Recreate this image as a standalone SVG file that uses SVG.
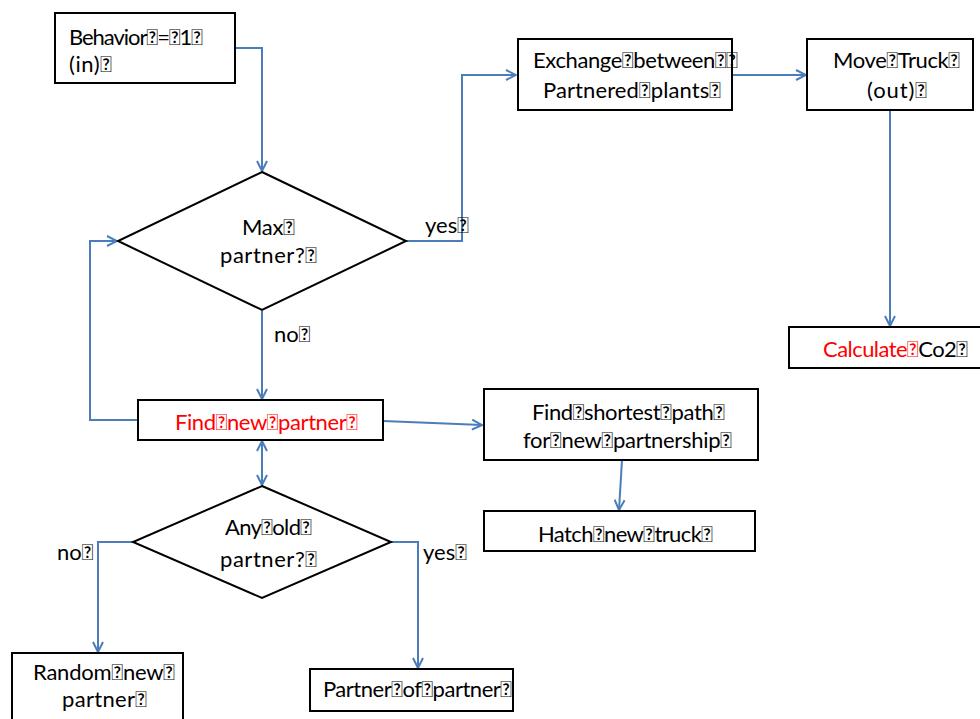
<svg xmlns="http://www.w3.org/2000/svg" width="980" height="719" viewBox="0 0 980 719">
<defs>
<style>
.box{fill:#fff;stroke:#000;stroke-width:2}
.t{font-family:Lato,"Liberation Sans",Arial,sans-serif;font-size:22px;fill:#000}
.r{fill:#ff0000}
.ln{fill:none;stroke:#4a7ebb;stroke-width:2}
</style>
<marker id="ah" viewBox="0 0 12 12" refX="11" refY="6" markerWidth="12" markerHeight="12" markerUnits="userSpaceOnUse" orient="auto-start-reverse">
<path d="M1,1 L11,6 L1,11" fill="none" stroke="#4a7ebb" stroke-width="2"/>
</marker>
</defs>
<rect width="980" height="719" fill="#fff"/>
<g id="connectors">
<polyline class="ln" points="235,48 262,48 262,171" marker-end="url(#ah)"/>
<polyline class="ln" points="406,241 462,241 462,75 516,75" marker-end="url(#ah)"/>
<line class="ln" x1="732" y1="75" x2="806" y2="75" marker-end="url(#ah)"/>
<line class="ln" x1="890" y1="110" x2="890" y2="326" marker-end="url(#ah)"/>
<line class="ln" x1="262" y1="311" x2="262" y2="399" marker-end="url(#ah)"/>
<polyline class="ln" points="138,420 90,420 90,241 117,241" marker-end="url(#ah)"/>
<line class="ln" x1="383" y1="421" x2="482" y2="425" marker-end="url(#ah)"/>
<line class="ln" x1="622" y1="460" x2="619" y2="510" marker-end="url(#ah)"/>
<line class="ln" x1="262" y1="441" x2="262" y2="485" marker-start="url(#ah)" marker-end="url(#ah)"/>
<polyline class="ln" points="133,542 98,542 98,652" marker-end="url(#ah)"/>
<polyline class="ln" points="391,542 418,542 418,668" marker-end="url(#ah)"/>
<text class="t" x="425" y="233">yes&#xF020;</text>
<text class="t" x="274" y="342">no&#xF020;</text>
<text class="t" x="57" y="560">no&#xF020;</text>
<text class="t" x="423" y="560">yes&#xF020;</text>
</g>
<g id="behavior">
<rect class="box" x="55" y="13" width="180" height="70"/>
<text class="t" x="69" y="45" textLength="134" lengthAdjust="spacing">Behavior&#xF020;=&#xF020;1&#xF020;</text>
<text class="t" x="69" y="72" textLength="43" lengthAdjust="spacing">(in)&#xF020;</text>
</g>
<g id="max-partner">
<polygon class="box" points="262,172 406,241 262,310 118,241"/>
<text class="t" x="242" y="235" textLength="53" lengthAdjust="spacing">Max&#xF020;</text>
<text class="t" x="220" y="263" textLength="97" lengthAdjust="spacing">partner?&#xF020;</text>
</g>
<g id="exchange">
<rect class="box" x="518" y="39" width="214" height="71"/>
<text class="t" x="533" y="68" textLength="205" lengthAdjust="spacing">Exchange&#xF020;between&#xF020;&#xF020;</text>
<text class="t" x="543" y="98" textLength="178" lengthAdjust="spacing">Partnered&#xF020;plants&#xF020;</text>
</g>
<g id="move-truck">
<rect class="box" x="807" y="39" width="166" height="71"/>
<text class="t" x="833" y="68" textLength="127" lengthAdjust="spacing">Move&#xF020;Truck&#xF020;</text>
<text class="t" x="867" y="98" textLength="60" lengthAdjust="spacing">(out)&#xF020;</text>
</g>
<g id="calculate">
<rect class="box" x="789" y="327" width="200" height="41"/>
<text class="t" x="823" y="357" textLength="145" lengthAdjust="spacing"><tspan class="r">Calculate&#xF020;</tspan>Co2&#xF020;</text>
</g>
<g id="find-new-partner">
<rect class="box" x="138" y="400" width="245" height="40"/>
<text class="t r" x="175" y="430" textLength="183" lengthAdjust="spacing">Find&#xF020;new&#xF020;partner&#xF020;</text>
</g>
<g id="shortest-path">
<rect class="box" x="484" y="389" width="274" height="71"/>
<text class="t" x="532" y="420" textLength="193" lengthAdjust="spacing">Find&#xF020;shortest&#xF020;path&#xF020;</text>
<text class="t" x="523" y="448" textLength="209" lengthAdjust="spacing">for&#xF020;new&#xF020;partnership&#xF020;</text>
</g>
<g id="hatch">
<rect class="box" x="484" y="511" width="271" height="40"/>
<text class="t" x="538" y="542" textLength="175" lengthAdjust="spacing">Hatch&#xF020;new&#xF020;truck&#xF020;</text>
</g>
<g id="any-old-partner">
<polygon class="box" points="262,486 391,542 262,598 133,542"/>
<text class="t" x="225" y="535" textLength="87" lengthAdjust="spacing">Any&#xF020;old&#xF020;</text>
<text class="t" x="220" y="567" textLength="97" lengthAdjust="spacing">partner?&#xF020;</text>
</g>
<g id="random">
<rect class="box" x="12" y="653" width="171" height="80"/>
<text class="t" x="33" y="680" textLength="142" lengthAdjust="spacing">Random&#xF020;new&#xF020;</text>
<text class="t" x="62" y="707" textLength="85" lengthAdjust="spacing">partner&#xF020;</text>
</g>
<g id="partner-of-partner">
<rect class="box" x="310" y="669" width="203" height="42"/>
<text class="t" x="323" y="697" textLength="189" lengthAdjust="spacing">Partner&#xF020;of&#xF020;partner&#xF020;</text>
</g>
</svg>
